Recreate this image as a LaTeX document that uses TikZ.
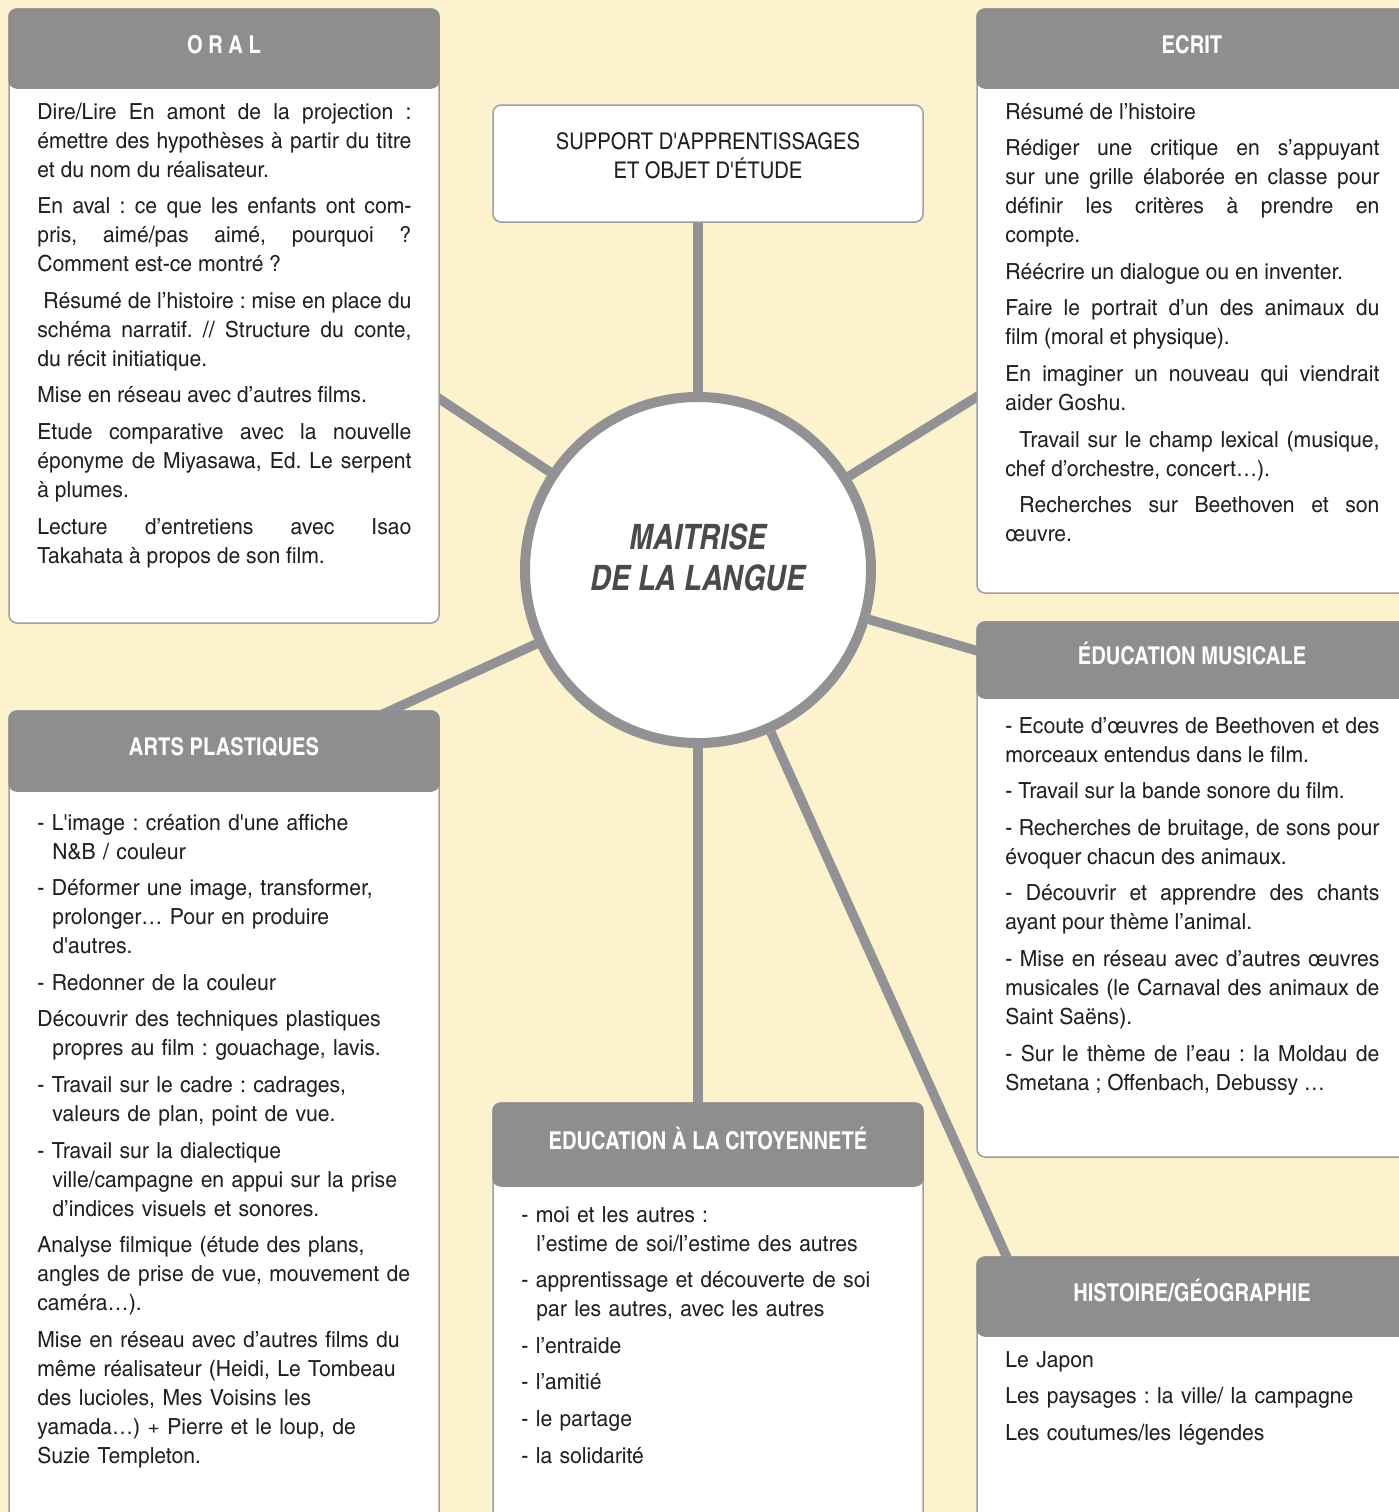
\documentclass[tikz,border=0pt]{standalone}
\usepackage{fontspec}
\setmainfont{texgyreheroscn}[Extension=.otf, UprightFont=*-regular, BoldFont=*-bold, ItalicFont=*-italic, BoldItalicFont=*-bolditalic, Ligatures=TeXOff]
\newfontfamily\bodyfont{texgyreheroscn}[Extension=.otf, UprightFont=*-regular, FakeStretch=1.16, Ligatures=TeXOff]
\newfontfamily\capfont{texgyreheroscn}[Extension=.otf, UprightFont=*-regular, FakeStretch=1.07, Ligatures=TeXOff]
\usetikzlibrary{backgrounds}
\definecolor{paper}{RGB}{252,243,206}
\definecolor{headgray}{RGB}{142,142,144}
\definecolor{spokegray}{RGB}{146,146,148}
\definecolor{rimgray}{RGB}{158,158,160}
\definecolor{ink}{RGB}{35,31,32}
\definecolor{hubink}{RGB}{74,74,76}
\newcommand{\hng}{\hangindent=7.5pt\hangafter=1\relax}
\frenchspacing
\begin{document}
\begin{tikzpicture}[x=0.5pt, y=-0.5pt,
	panel/.style={draw=rimgray, line width=0.75pt, fill=white, rounded corners=4pt, minimum width=215pt, anchor=north west, inner sep=0pt, outer sep=0pt},
	panelhead/.style={fill=headgray, draw=headgray, line width=0.75pt, rounded corners=4pt, minimum width=215pt, minimum height=39.5pt, anchor=north, inner sep=0pt, outer sep=0pt, text=white, font=\bfseries\fontsize{12.3}{15}\selectfont, text height=9pt, text depth=4.5pt},
	bodytext/.style={text width=187pt, inner sep=0pt, anchor=base west, text=ink, font=\bodyfont\frenchspacing\fontsize{11.1}{14.5}\selectfont, execute at begin node={\setlength{\parskip}{3.8pt}}},
	justified/.style={bodytext, align=justify},
	ragged/.style={bodytext, align=left},
	hub/.style={circle, draw=spokegray, line width=5pt, fill=white, minimum size=173pt, inner sep=0pt},
	hubtext/.style={align=center, text=hubink, font=\bfseries\itshape\fontsize{17.5}{20.5}\selectfont},
	spoke/.style={draw=spokegray, line width=4.75pt, shorten >=-4pt}]
	\path[use as bounding box] (0,0) rectangle (1399,1512);
	\clip (0,0) rectangle (1399,1512);

	% centre
	\node[hub] (hub) at (698,570) {};
	\node[hubtext] (hubt) at (698,557.5) {MAITRISE\\DE LA LANGUE};

	% support
	\node[panel, minimum height=58.5pt] (support) at (493,105) {};
	\node[align=center, text=ink, font=\capfont\fontsize{11.5}{14.5}\selectfont] (supportt) at (708,155.5) {SUPPORT D'APPRENTISSAGES\\ET OBJET D'ÉTUDE};

	% oral
	\node[panel, minimum height=307pt] (oral) at (9,9) {};
	\node[panelhead] (oralh) at (oral.north) {O R A L};
	\node[justified] (oralt) at (37,119) {Dire/Lire En amont de la projection :\linebreak émettre des hypothèses à partir du titre\linebreak et du nom du réalisateur.\par
	En aval : ce que les enfants ont com-\linebreak pris, aimé/pas aimé, pourquoi ?\linebreak Comment est-ce montré ?\par
	\hspace*{3pt}Résumé de l’histoire : mise en place du\linebreak schéma narratif. // Structure du conte,\linebreak du récit initiatique.\par
	Mise en réseau avec d’autres films.\par
	Etude comparative avec la nouvelle\linebreak éponyme de Miyasawa, Ed. Le serpent\linebreak à plumes.\par
	Lecture d’entretiens avec Isao\linebreak Takahata à propos de son film.};

	% ecrit
	\node[panel, minimum height=292pt] (ecrit) at (977,9) {};
	\node[panelhead] (ecrith) at (ecrit.north) {ECRIT};
	\node[justified] (ecritt) at (1005,119) {Résumé de l’histoire\par
	Rédiger une critique en s’appuyant\linebreak sur une grille élaborée en classe pour\linebreak définir les critères à prendre en\linebreak compte.\par
	Réécrire un dialogue ou en inventer.\par
	Faire le portrait d’un des animaux du\linebreak film (moral et physique).\par
	En imaginer un nouveau qui viendrait\linebreak aider Goshu.\par
	\hspace*{7pt}Travail sur le champ lexical (musique,\linebreak chef d’orchestre, concert…).\par
	\hspace*{7pt}Recherches sur Beethoven et son\linebreak œuvre.};

	% musique
	\node[panel, minimum height=267.5pt] (musique) at (977,622) {};
	\node[panelhead, minimum height=38pt] (musiqueh) at (musique.north) {ÉDUCATION MUSICALE};
	\node[justified] (musiquet) at (1005,733) {- Ecoute d’œuvres de Beethoven et des\linebreak morceaux entendus dans le film.\par
	- Travail sur la bande sonore du film.\par
	- Recherches de bruitage, de sons pour\linebreak évoquer chacun des animaux.\par
	- Découvrir et apprendre des chants\linebreak ayant pour thème l’animal.\par
	- Mise en réseau avec d’autres œuvres\linebreak musicales (le Carnaval des animaux de\linebreak Saint Saëns).\par
	- Sur le thème de l’eau : la Moldau de\linebreak Smetana ; Offenbach, Debussy …};

	% arts
	\node[panel, minimum height=410pt] (arts) at (9,711) {};
	\node[panelhead, minimum height=40pt] (artsh) at (arts.north) {ARTS PLASTIQUES};
	\node[ragged] (artst) at (37,830) {\hng - L'image : création d'une affiche\linebreak N\&B / couleur\par
	\hng - Déformer une image, transformer,\linebreak prolonger… Pour en produire\linebreak d'autres.\par
	- Redonner de la couleur\par
	\hng Découvrir des techniques plastiques\linebreak propres au film : gouachage, lavis.\par
	\hng - Travail sur le cadre : cadrages,\linebreak valeurs de plan, point de vue.\par
	\hng - Travail sur la dialectique\linebreak ville/campagne en appui sur la prise\linebreak d’indices visuels et sonores.\par
	Analyse filmique (étude des plans,\linebreak angles de prise de vue, mouvement de\linebreak caméra…).\par
	Mise en réseau avec d’autres films du\linebreak même réalisateur (Heidi, Le Tombeau\linebreak des lucioles, Mes Voisins les\linebreak yamada…) + Pierre et le loup, de\linebreak Suzie Templeton.};

	% citoyennete
	\node[panel, minimum height=215pt] (civic) at (493,1103) {};
	\node[panelhead, minimum height=41.5pt] (civich) at (civic.north) {EDUCATION À LA CITOYENNETÉ};
	\node[ragged] (civict) at (521,1222) {\hng - moi et les autres :\linebreak l’estime de soi/l’estime des autres\par
	\hng - apprentissage et découverte de soi\linebreak par les autres, avec les autres\par
	- l’entraide\par
	- l’amitié\par
	- le partage\par
	- la solidarité};

	% histoire
	\node[panel, minimum height=150pt] (histo) at (977,1257) {};
	\node[panelhead] (histoh) at (histo.north) {HISTOIRE/GÉOGRAPHIE};
	\node[ragged] (histot) at (1005,1367) {Le Japon\par
	Les paysages : la ville/ la campagne\par
	Les coutumes/les légendes};

	% spokes
	\begin{pgfonlayer}{background}
	\fill[paper] (0,0) rectangle (1399,1512);
	\draw[spoke] (hub) -- (hub |- support.south);
	\draw[spoke] (hub) -- (hub |- civic.north);
	\draw[spoke] (hub) -- (oral.-21.3);
	\draw[spoke] (hub) -- (ecrit.-156.8);
	\draw[spoke] (hub) -- (musique.132.5);
	\draw[spoke] (hub) -- (arts.68.6);
	\draw[spoke] (hub) -- (histo.141.6);
	\end{pgfonlayer}
\end{tikzpicture}
\end{document}
